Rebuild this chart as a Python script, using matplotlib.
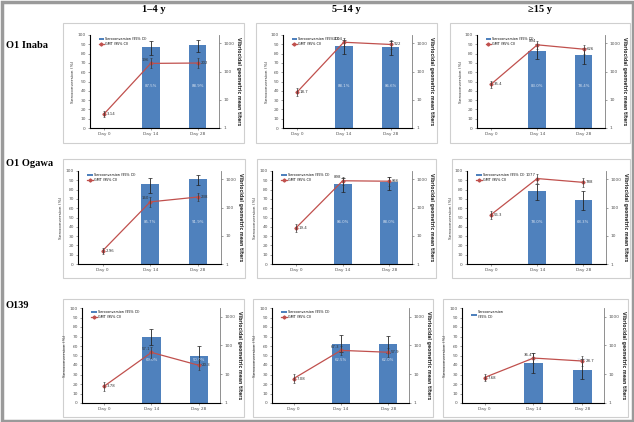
import numpy as np
import matplotlib.pyplot as plt
from matplotlib.patches import Rectangle
from matplotlib.lines import Line2D

days = ['Day 0', 'Day 14', 'Day 28']
row_names = ['O1 Inaba', 'O1 Ogawa', 'O139']
col_names = ['1\u20134 y', '5\u201314 y', '\u226515 y']

# seroconversion (%) at Day 14 / Day 28, per row then per age group
sero = [[[87.5, 88.9], [88.1, 86.6], [83.0, 78.4]],
        [[85.7, 91.9], [86.0, 88.0], [78.0, 68.3]],
        [[69.0, 50.0], [62.5, 62.0], [42.0, 35.0]]]
sero_lo = [[[79, 82], [80, 79], [74, 69]],
           [[76, 85], [77, 80], [69, 58]],
           [[61, 41], [54, 53], [32, 25]]]
sero_hi = [[[94, 95], [95, 94], [90, 86]],
           [[92, 96], [92, 94], [86, 78]],
           [[78, 60], [72, 71], [53, 46]]]

# vibriocidal GMT at Day 0 / 14 / 28
gmt = [[[3.14, 196, 202], [18.7, 1104, 922], [35.4, 894, 626]],
       [[2.96, 160, 238], [19.4, 898, 866], [56.3, 1077, 788]],
       [[3.78, 57.1, 20.3], [7.08, 67.3, 57.9], [7.68, 36.4, 28.7]]]
gmt_lo = [[[2.4, 130, 140], [13.5, 780, 660], [26, 640, 430]],
          [[2.3, 105, 170], [14, 640, 600], [40, 760, 560]],
          [[2.7, 38, 13.5], [5.0, 46, 40], [5.6, 25, 19]]]
gmt_hi = [[[4.1, 300, 300], [26, 1560, 1290], [48, 1250, 910]],
          [[3.8, 245, 335], [27, 1260, 1250], [79, 1520, 1110]],
          [[5.3, 86, 30], [10, 98, 84], [10.5, 53, 43]]]

legend_labels = ['Seroconversion (95% CI)', 'GMT (95% CI)']

W, H = 634, 422
fig = plt.figure(figsize=(W / 100, H / 100), dpi=100)
fig.patch.set_facecolor('white')

def rect(x0, y0, x1, y1):
    return [x0 / W, 1 - y1 / H, (x1 - x0) / W, (y1 - y0) / H]

# outer frame
fig.patches.append(Rectangle((1.5 / W, 1.5 / H), 1 - 3 / W, 1 - 3 / H, transform=fig.transFigure,
                             fill=False, ec='#9a9a9a', lw=2.5, zorder=-2))

panel_x = [[(63, 244), (256, 437), (450, 630)],
           [(63, 245), (257, 436), (452, 630)],
           [(63, 244), (253, 433), (443, 628)]]
panel_y = [(23, 143), (159, 278), (299, 417)]
# axes offsets (left, top, right, bottom) inside panel
offs = [(27, 12, 25, 15), (15, 12, 24, 14), (19, 9, 24, 14)]
xlims = [(-0.3, 2.46), (-0.52, 2.49), (-0.46, 2.44)]

blue = '#4F81BD'
red = '#C0504D'
serif = 'Liberation Serif'

for c, name in enumerate(col_names):
    x0, x1 = panel_x[0][c]
    fig.text((x0 + x1) / 2 / W, 1 - 10 / H, name, ha='center', va='center',
             fontsize=7.5, fontweight='bold', family=serif)

label_y = [45, 164, 305]
for r, name in enumerate(row_names):
    fig.text(6 / W, 1 - label_y[r] / H, name, ha='left', va='center',
             fontsize=7.5, fontweight='bold', family=serif)

xpos = np.arange(len(days))
for r in range(3):
    py0, py1 = panel_y[r]
    lo, to, ro, bo = offs[r]
    for c in range(3):
        px0, px1 = panel_x[r][c]
        fig.patches.append(Rectangle((px0 / W, 1 - py1 / H), (px1 - px0) / W, (py1 - py0) / H,
                                     transform=fig.transFigure, fc='white', ec='#cfcfcf', lw=0.8,
                                     zorder=-1))
        ax = fig.add_axes(rect(px0 + lo, py0 + to, px1 - ro, py1 - bo))
        ax.patch.set_alpha(0)
        s = sero[r][c]
        yerr = [np.array(s) - np.array(sero_lo[r][c]), np.array(sero_hi[r][c]) - np.array(s)]
        ax.bar(xpos[1:], s, width=0.38, color=blue, zorder=2)
        ax.errorbar(xpos[1:], s, yerr=yerr, fmt='none', ecolor='#222222', elinewidth=0.6,
                    capsize=1.2, capthick=0.5, zorder=3)
        for xi, v in zip(xpos[1:], s):
            ax.text(xi, 45, '%.1f%%' % v, ha='center', va='center', fontsize=2.8, color='#d8e2f0', zorder=4)
        ax.set_ylim(0, 100)
        ax.set_xlim(*xlims[r])
        ax.set_yticks(range(0, 101, 10))
        ax.set_xticks(xpos)
        ax.set_xticklabels(days)
        ax.tick_params(axis='both', labelsize=3.2, length=1.5, width=0.4, pad=1.5, colors='#555555')
        ax.set_ylabel('Seroconversion (%)', fontsize=3.2, labelpad=1.5, color='#333333')
        ax.spines['top'].set_visible(False)
        for sp in ['left', 'bottom', 'right']:
            ax.spines[sp].set_color('#888888')
            ax.spines[sp].set_linewidth(0.5)

        ax2 = ax.twinx()
        g = np.array(gmt[r][c])
        gerr = [g - np.array(gmt_lo[r][c]), np.array(gmt_hi[r][c]) - g]
        ax2.set_yscale('log')
        ax2.set_ylim(1, 10 ** 3.3)
        ax2.plot(xpos, g, color=red, lw=0.9, marker='D', ms=1.6, zorder=5)
        ax2.errorbar(xpos, g, yerr=gerr, fmt='none', ecolor='#333333', elinewidth=0.5,
                     capsize=1.0, capthick=0.4, zorder=6)
        for i, v in enumerate(g):
            txt = ('%g' % v)
            if i == 1:
                ax2.text(xpos[i] - 0.03, v * 1.12, txt, ha='right', va='bottom', fontsize=2.8, color='#333333', zorder=7)
            else:
                ax2.text(xpos[i] + 0.06, v, txt, ha='left', va='center', fontsize=2.8, color='#333333', zorder=7)
        ax2.set_yticks([1, 10, 100, 1000])
        ax2.set_yticklabels(['1', '10', '100', '1000'])
        ax2.minorticks_off()
        ax2.tick_params(axis='y', labelsize=3.2, length=1.5, width=0.4, pad=1.5, colors='#555555')
        ax2.set_ylabel('Vibriocidal geometric mean titers', fontsize=3.3, rotation=270,
                       labelpad=5, color='#333333', fontweight='bold')
        ax2.spines['top'].set_visible(False)
        ax2.spines['right'].set_color('#888888')
        ax2.spines['right'].set_linewidth(0.5)

        handles = [Rectangle((0, 0), 1, 1, fc=blue),
                   Line2D([0], [0], color=red, lw=0.9, marker='D', ms=1.6)]
        labels = legend_labels
        if r == 2 and c == 2:
            handles = handles[:1]
            labels = ['Seroconversion\n(95% CI)']
        ax.legend(handles, labels, loc='upper left', bbox_to_anchor=(0.05, 1.0),
                  fontsize=2.4, frameon=False, handlelength=1.6, handleheight=0.7,
                  handletextpad=0.4, borderpad=0.2, labelspacing=0.3)

fig.savefig('out.png', dpi=100)
